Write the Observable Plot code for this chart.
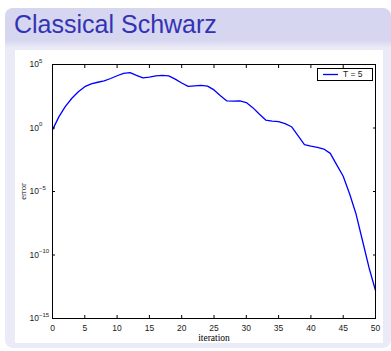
<!DOCTYPE html>
<html><head><meta charset="utf-8">
<script src="https://cdn.jsdelivr.net/npm/d3@7"></script>
<script src="https://cdn.jsdelivr.net/npm/@observablehq/plot@0.6"></script>
<style>
html,body{margin:0;padding:0;background:#fff;width:391px;height:351px;overflow:hidden;position:relative;}
#frame{position:absolute;left:5px;top:8px;width:386px;height:340px;border-radius:8px;background:#ebebf7;overflow:hidden;}
#head{position:absolute;left:0;top:0;width:100%;height:40px;background:linear-gradient(#d6d6f0 0px,#d6d6f0 32px,#ebebf7 40px);}
#title{position:absolute;left:9px;top:4px;font:25px/25px "Liberation Sans",Arial,Helvetica,sans-serif;color:#3333b3;white-space:nowrap;}
#panel{position:absolute;left:15px;top:50px;width:368px;height:293px;background:#fff;}
#panel svg{display:block;}
#legend{position:absolute;left:317px;top:68px;width:56px;height:13px;box-sizing:border-box;border:1px solid #000;background:#fff;}
#legend svg{position:absolute;left:5px;top:4px;}
#legend span{position:absolute;left:25px;top:0px;font:8.5px/11px "Liberation Sans",Arial,Helvetica,sans-serif;color:#222;white-space:nowrap;}
</style></head>
<body>
<div id="frame"><div id="head"></div><div id="title"></div></div>
<div id="panel"></div>
<div id="legend"></div>
<script>
const title = "Classical Schwarz";
const xLabel = "iteration";
const yLabel = "error";
const seriesName = "T = 5";
const iterations = [0,1,2,3,4,5,6,7,8,9,10,11,12,13,14,15,16,17,18,19,20,21,22,23,24,25,26,27,28,29,30,31,32,33,34,35,36,37,38,39,40,41,42,43,44,45,46,47,48,49,50];
const errors = [7.1e-1,7.9e0,5.0e1,2.2e2,7.1e2,1.8e3,3.0e3,4.0e3,5.2e3,7.9e3,1.3e4,2.0e4,2.3e4,1.4e4,8.9e3,1.0e4,1.26e4,1.4e4,1.26e4,7.1e3,3.5e3,1.9e3,2.1e3,2.3e3,2.0e3,1.0e3,3.5e2,1.35e2,1.3e2,1.35e2,1.0e2,4.0e1,1.26e1,4.2e0,3.5e0,3.2e0,2.2e0,1.26e0,2.5e-1,5.0e-2,3.8e-2,3.0e-2,2.2e-2,1.0e-2,1.26e-3,1.6e-4,6.3e-6,1.6e-7,1.26e-9,1.0e-11,1.6e-13];
const xTicks = [0,5,10,15,20,25,30,35,40,45,50];
const yTicks = [1e-15,1e-10,1e-5,1e0,1e5];

document.getElementById("title").textContent = title;

const data = iterations.map((it, i) => ({iteration: it, error: errors[i]}));
const sans = '"Liberation Sans", Arial, Helvetica, sans-serif';
const serif = '"Liberation Serif", "Times New Roman", serif';

const chart = Plot.plot({
  width: 368, height: 293,
  marginLeft: 37, marginRight: 8, marginTop: 14, marginBottom: 25,
  style: {fontFamily: sans, fontSize: "8.5px", background: "transparent", color: "#000"},
  x: {domain: [0, 50]},
  y: {type: "log", domain: [1e-15, 1e5]},
  marks: [
    Plot.line(data, {x: "iteration", y: "error", stroke: "#0000ff", strokeWidth: 1.3}),
    Plot.axisX(xTicks, {anchor: "bottom", tickSize: 3, dy: -3, tickFormat: () => "", label: null}),
    Plot.axisX(xTicks, {anchor: "top", tickSize: 3, dy: 3, tickFormat: () => "", label: null}),
    Plot.axisY(yTicks, {anchor: "left", tickSize: 3, dx: 3, tickFormat: () => "", label: null}),
    Plot.axisY(yTicks, {anchor: "right", tickSize: 3, dx: -3, tickFormat: () => "", label: null}),
    Plot.axisX(xTicks, {anchor: "bottom", tickSize: 0, tickPadding: 6, fill: "#222", label: null}),
    Plot.axisY(yTicks, {anchor: "left", tickSize: 0, tickPadding: 0, textAnchor: "start", dx: -23, fill: "#222",
      tickFormat: d => "10^" + Math.round(Math.log10(d)), label: null}),
    Plot.frame({stroke: "#000", strokeWidth: 1}),
    Plot.text([xLabel], {text: d => d, frameAnchor: "bottom", lineAnchor: "middle", textAnchor: "middle", dy: 19, fontFamily: serif, fontSize: 9.5, fill: "#000"}),
    Plot.text([yLabel], {text: d => d, frameAnchor: "left", lineAnchor: "middle", textAnchor: "middle", dx: -29.5, rotate: -90, fontFamily: serif, fontSize: 8.5, fill: "#000"})
  ]
});

const ns = "http://www.w3.org/2000/svg";
chart.querySelectorAll('g[aria-label="y-axis tick label"] text').forEach(t => {
  const s = t.textContent;
  if (!s.includes("^")) return;
  const [base, exp] = s.split("^");
  t.textContent = "";
  const a = document.createElementNS(ns, "tspan");
  a.textContent = base;
  const b = document.createElementNS(ns, "tspan");
  b.textContent = exp.replace("-", "\u2212");
  b.setAttribute("dy", "-4.5");
  b.setAttribute("font-size", "6");
  t.append(a, b);
});
document.getElementById("panel").append(chart);

const leg = document.getElementById("legend");
leg.innerHTML = '<svg width="15" height="3"><line x1="0" y1="1.5" x2="15" y2="1.5" stroke="#0000ff" stroke-width="1.3"/></svg><span></span>';
leg.querySelector("span").textContent = seriesName;
</script>
</body></html>
